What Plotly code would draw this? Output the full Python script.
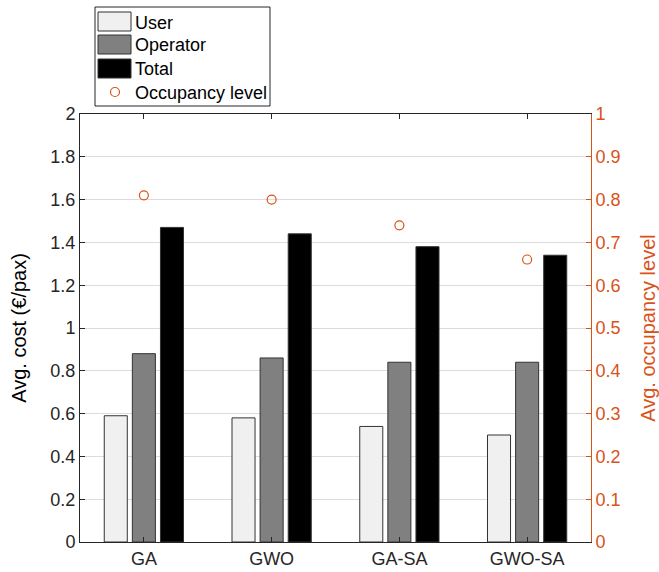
import plotly.graph_objects as go

# Cost breakdown per algorithm
algorithms = ["GA", "GWO", "GA-SA", "GWO-SA"]
user_cost = [0.59, 0.58, 0.54, 0.50]
operator_cost = [0.88, 0.86, 0.84, 0.84]
total_cost = [1.47, 1.44, 1.38, 1.34]
occupancy = [0.81, 0.80, 0.74, 0.66]

left_ticks = [0, 0.2, 0.4, 0.6, 0.8, 1, 1.2, 1.4, 1.6, 1.8, 2]
right_ticks = [0, 0.1, 0.2, 0.3, 0.4, 0.5, 0.6, 0.7, 0.8, 0.9, 1]

ORANGE = "#D95319"
AXIS = "#262626"
EDGE = "#333333"
FONT = "Liberation Sans, Arial, sans-serif"

W, H = 659, 572
ML, MR, MT, MB = 80, 68, 114, 30
PW, PH = W - ML - MR, H - MT - MB


def px(x):
    return (x - ML) / PW


def py(y):
    return (H - MB - y) / PH


fig = go.Figure()

bar_specs = [
    ("User", user_cost, "#F0F0F0"),
    ("Operator", operator_cost, "#808080"),
    ("Total", total_cost, "#000000"),
]
for name, vals, color in bar_specs:
    fig.add_trace(go.Bar(
        x=algorithms, y=vals, name=name,
        marker=dict(color=color, line=dict(color=EDGE, width=1)),
        yaxis="y", showlegend=False,
    ))

fig.add_trace(go.Scatter(
    x=algorithms, y=occupancy, name="Occupancy level", mode="markers",
    marker=dict(symbol="circle-open", size=9, color=ORANGE, line=dict(width=1.2)),
    yaxis="y2", showlegend=False,
))

# Legend box drawn in pixel space (converted to paper coordinates)
shapes = [dict(type="rect", xref="paper", yref="paper",
               x0=px(95), x1=px(270), y0=py(106), y1=py(7),
               line=dict(color=AXIS, width=1), fillcolor="white", layer="above")]
annotations = []
rows = [("User", "#F0F0F0", 21.5), ("Operator", "#808080", 44.5), ("Total", "#000000", 68.5)]
for label, color, cy in rows:
    shapes.append(dict(type="rect", xref="paper", yref="paper",
                       x0=px(98), x1=px(131), y0=py(cy + 9.5), y1=py(cy - 9.5),
                       line=dict(color=EDGE, width=1), fillcolor=color, layer="above"))
    annotations.append(dict(text=label, xref="paper", yref="paper",
                            x=px(133), y=py(cy + 1), xanchor="left", yanchor="middle",
                            showarrow=False, font=dict(size=18, color="#000000")))
cy = 92
shapes.append(dict(type="circle", xref="paper", yref="paper",
                   x0=px(115 - 4.5), x1=px(115 + 4.5), y0=py(cy + 4.5), y1=py(cy - 4.5),
                   line=dict(color=ORANGE, width=1.2), fillcolor="rgba(0,0,0,0)", layer="above"))
annotations.append(dict(text="Occupancy level", xref="paper", yref="paper",
                        x=px(133), y=py(cy + 1), xanchor="left", yanchor="middle",
                        showarrow=False, font=dict(size=18, color="#000000")))

fig.update_layout(
    width=W, height=H,
    margin=dict(l=ML, r=MR, t=MT, b=MB, autoexpand=False),
    paper_bgcolor="white", plot_bgcolor="white",
    font=dict(family=FONT, size=18, color=AXIS),
    barmode="group", bargap=0.34, bargroupgap=0.18,
    showlegend=False,
    shapes=shapes,
    annotations=annotations,
    xaxis=dict(
        type="category", range=[-0.5, 3.5], automargin=False,
        showline=True, linecolor=AXIS, linewidth=1, mirror="ticks",
        ticks="inside", ticklen=5, tickcolor=AXIS,
        showgrid=False, tickfont=dict(size=18, color=AXIS),
    ),
    yaxis=dict(
        range=[0, 2], tickvals=left_ticks, automargin=False,
        ticktext=[f"{v:g}" for v in left_ticks],
        showline=True, linecolor=AXIS, linewidth=1,
        ticks="inside", ticklen=5, tickcolor=AXIS,
        showgrid=True, gridcolor="#DCDCDC", gridwidth=1,
        zeroline=False, tickfont=dict(size=18, color=AXIS),
        title=dict(text="Avg. cost (€/pax)", font=dict(size=20, color="#000000"), standoff=18),
    ),
    yaxis2=dict(
        range=[0, 1], tickvals=right_ticks, automargin=False,
        ticktext=[f"{v:g}" for v in right_ticks],
        overlaying="y", side="right",
        showline=True, linecolor=ORANGE, linewidth=1,
        ticks="inside", ticklen=5, tickcolor=ORANGE,
        showgrid=False, zeroline=False,
        tickfont=dict(size=18, color=ORANGE),
        title=dict(text="Avg. occupancy level", font=dict(size=20, color=ORANGE), standoff=25),
    ),
)

fig.write_html("out.html")
